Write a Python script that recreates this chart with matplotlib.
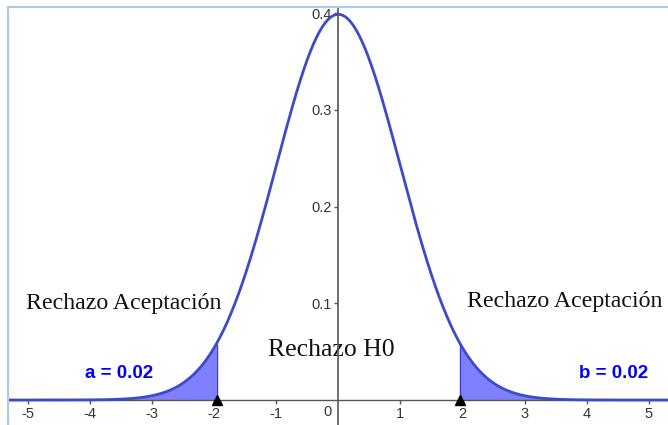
import numpy as np
import matplotlib
matplotlib.use("Agg")
import matplotlib.pyplot as plt
from matplotlib.lines import Line2D

# ---- data ----
mu = 0.0
sigma = 1.0
crit_left = -1.96
crit_right = 1.96
x_ticks = [-5, -4, -3, -2, -1, 1, 2, 3, 4, 5]
x_tick_labels = ["-5", "-4", "-3", "-2", "-1", "1", "2", "3", "4", "5"]
y_ticks = [0.1, 0.2, 0.3, 0.4]
y_tick_labels = ["0.1", "0.2", "0.3", "0.4"]
label_a = "a = 0.02"
label_b = "b = 0.02"
label_region = "Rechazo Aceptación"
label_center = "Rechazo H0"

W, H = 668, 425
fig = plt.figure(figsize=(W / 100, H / 100), dpi=100)
ax = fig.add_axes([0, 0, 1, 1])

# pixel mapping: x_px = 338.3 + 62.1*v ; y_px(from top) = 400 - 966.7*v
x0, sx = 338.3, 62.1
y0, sy = 400.0, 966.7
ax.set_xlim((0 - x0) / sx, (W - x0) / sx)
ax.set_ylim((y0 - H) / sy, y0 / sy)

def px_to_y(py):
    return (y0 - py) / sy

def px_to_x(px):
    return (px - x0) / sx

curve_col = "#3a4cc8"
fill_col = "#7f7fff"
axis_col = "#555555"
sans = ["Liberation Sans", "DejaVu Sans"]
serif = ["Liberation Serif", "DejaVu Serif"]

# normal density
xs = np.linspace(px_to_x(10), px_to_x(W), 1200)
pdf = np.exp(-0.5 * ((xs - mu) / sigma) ** 2) / (sigma * np.sqrt(2 * np.pi))

# spines
for s in ["top", "right"]:
    ax.spines[s].set_visible(False)
ax.spines["bottom"].set_position(("data", 0))
ax.spines["left"].set_position(("data", 0))
ax.spines["bottom"].set_bounds(px_to_x(10), px_to_x(W))
ax.spines["left"].set_bounds(px_to_y(H), px_to_y(6.5))
ax.spines["bottom"].set_color(axis_col)
ax.spines["left"].set_color(axis_col)
ax.spines["bottom"].set_linewidth(1.0)
ax.spines["left"].set_linewidth(1.2)
ax.spines["left"].set_zorder(3.5)

ax.set_xticks(x_ticks)
ax.set_xticklabels(x_tick_labels)
ax.set_yticks(y_ticks)
ax.set_yticklabels(y_tick_labels)
ax.tick_params(axis="both", direction="out", length=3, width=1, color=axis_col,
               labelsize=10.5, labelcolor="#333333", pad=2)
for lab in ax.get_xticklabels() + ax.get_yticklabels():
    lab.set_family(sans)
ax.text(px_to_x(327), px_to_y(412), "0", ha="center", va="center", fontsize=10.5,
        color="#333333", family=sans)

# shaded tails
lm = xs <= crit_left
rm = xs >= crit_right
ax.fill_between(xs[lm], 0, pdf[lm], color=fill_col, linewidth=0, zorder=2)
ax.fill_between(xs[rm], 0, pdf[rm], color=fill_col, linewidth=0, zorder=2)
for c in (crit_left, crit_right):
    ax.vlines(c, 0, np.exp(-0.5 * ((c - mu) / sigma) ** 2) / (sigma * np.sqrt(2 * np.pi)),
              color="#2f3fe0", lw=1.0, zorder=3)

ax.plot(xs, pdf, color=curve_col, lw=2.0, zorder=4)
ax.plot([crit_left, crit_right], [0, 0], marker="^", ls="none", color="black",
        markersize=7, zorder=5, clip_on=False)

ax.text(px_to_x(124), px_to_y(303), label_region, ha="center", va="center",
        fontsize=17.2, family=serif, color="#111111", zorder=1)
ax.text(px_to_x(565), px_to_y(301), label_region, ha="center", va="center",
        fontsize=17.2, family=serif, color="#111111", zorder=1)
ax.text(px_to_x(331), px_to_y(350), label_center, ha="center", va="center",
        fontsize=18.5, family=serif, color="#111111", zorder=1)

ax.text(px_to_x(119), px_to_y(373), label_a, ha="center", va="center",
        fontsize=13.5, fontweight="bold", family=sans, color="#0000ff")
ax.text(px_to_x(614), px_to_y(373), label_b, ha="center", va="center",
        fontsize=13.5, fontweight="bold", family=sans, color="#0000ff")

# light blue frame
frame_col = "#a9c9ee"
fig.add_artist(Line2D([7.5 / W, 7.5 / W], [0, 1 - 6.5 / H], color=frame_col, lw=1.5,
                      transform=fig.transFigure))
fig.add_artist(Line2D([7.5 / W, 1], [1 - 6.5 / H, 1 - 6.5 / H], color=frame_col, lw=1.5,
                      transform=fig.transFigure))

fig.savefig("out.png", dpi=100)
